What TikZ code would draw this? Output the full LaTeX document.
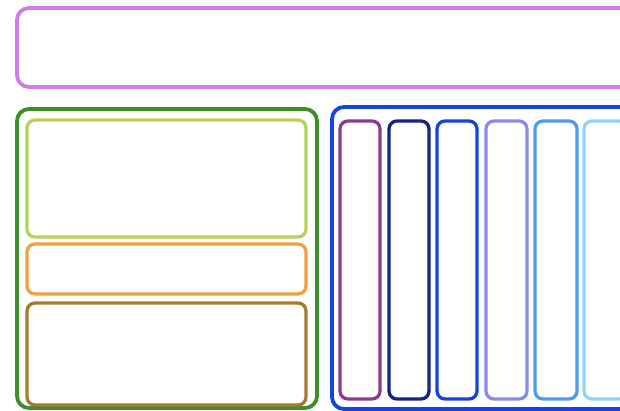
\documentclass[tikz,border=0pt]{standalone}
\usepackage{tikz}
\definecolor{cTop}{HTML}{D07CEE}
\definecolor{cGreen}{HTML}{3E8E2A}
\definecolor{cLime}{HTML}{B6D258}
\definecolor{cOrange}{HTML}{F0A040}
\definecolor{cBrown}{HTML}{A87A30}
\definecolor{cBlue}{HTML}{1444E2}
\definecolor{cPlum}{HTML}{8C3C8C}
\definecolor{cNavy}{HTML}{142488}
\definecolor{cLav}{HTML}{8A8AEA}
\definecolor{cSky}{HTML}{4C9CF2}
\definecolor{cLight}{HTML}{92D2FA}
\tikzset{
  outerbox/.style={draw=#1, line width=3.8pt, rounded corners=12pt},
  innerbox/.style={draw=#1, line width=3.3pt, rounded corners=8pt},
}
\begin{document}
\begin{tikzpicture}[x=1pt,y=-1pt]
\useasboundingbox[fill=white] (0,0) rectangle (620,411);
% top banner
\draw[outerbox=cTop] (17,8) rectangle (660,87);
% left group
\draw[outerbox=cGreen] (17,109) rectangle (317,408);
\draw[innerbox=cLime] (27,120) rectangle (306,237);
\draw[innerbox=cOrange] (27,244) rectangle (306,294);
\draw[innerbox=cBrown] (27,303) rectangle (306,405);
% right group
\draw[outerbox=cBlue] (332,107) rectangle (660,409);
\draw[innerbox=cPlum] (340,121) rectangle (380,399);
\draw[innerbox=cNavy] (389,121) rectangle (429,399);
\draw[innerbox=cBlue] (437,121) rectangle (477,399);
\draw[innerbox=cLav] (486,121) rectangle (527,399);
\draw[innerbox=cSky] (535,121) rectangle (577,399);
\draw[innerbox=cLight] (584,121) rectangle (626,399);
\end{tikzpicture}
\end{document}
